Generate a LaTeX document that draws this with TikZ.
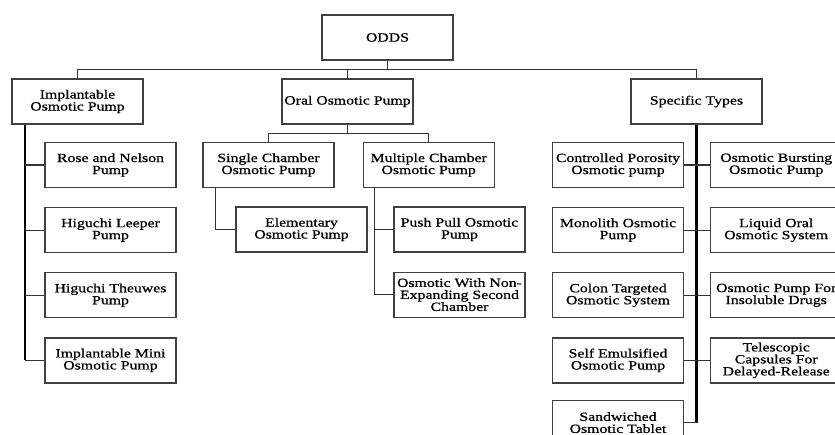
\documentclass[tikz,border=0pt]{standalone}
\usepackage{fontspec}
\setmainfont[FakeStretch=1.26,FakeBold=0.8]{Liberation Serif}
\usetikzlibrary{positioning}

\begin{document}
\begin{tikzpicture}[x=0.75pt, y=-0.75pt,
			node distance = 14.2pt,
			box/.style = {
				draw=black!75, line width=0.9pt,
				minimum width=98.25pt, minimum height=33.75pt,
				inner sep=0.5pt, align=center,
				font=\fontsize{9.4}{9}\selectfont
			},
			link/.style = {draw=black!80, line width=0.8pt},
			trunk/.style = {draw=black, line width=1.6pt}]
			\useasboundingbox (0,0) rectangle (835,435);
			\node (odds) [box] at (387.5,37.5) {ODDS};
			\node (impl) [box] at (77.5,101.5) {Implantable\\Osmotic Pump};
			\node (oral) [box] at (347.5,101.5) {Oral Osmotic Pump};
			\node (spec) [box] at (696.5,101.5) {Specific Types};
			\node (rose) [box] at (110.5,165) {Rose and Nelson\\Pump};
			\node (leeper) [box, below = of rose] {Higuchi Leeper\\Pump};
			\node (theuwes) [box, below = of leeper] {Higuchi Theuwes\\Pump};
			\node (mini) [box, below = of theuwes] {Implantable Mini\\Osmotic Pump};
			\node (single) [box] at (268.5,165) {Single Chamber\\Osmotic Pump};
			\node (multiple) [box, right = 21pt of single] {Multiple Chamber\\Osmotic Pump};
			\node (elem) [box] at (301.5,229.5) {Elementary\\Osmotic Pump};
			\node (pushpull) [box] at (459.5,229.5) {Push Pull Osmotic\\Pump};
			\node (nonexp) [box, below = of pushpull] {Osmotic With Non-\\Expanding Second\\Chamber};
			\node (porosity) [box] at (618,165) {Controlled Porosity\\Osmotic pump};
			\node (monolith) [box, below = of porosity] {Monolith Osmotic\\Pump};
			\node (colon) [box, below = of monolith] {Colon Targeted\\Osmotic System};
			\node (selfemul) [box, below = of colon] {Self Emulsified\\Osmotic Pump};
			\node (sandwich) [box, below = 12pt of selfemul] {Sandwiched\\Osmotic Tablet};
			\node (bursting) [box, right = 19.5pt of porosity] {Osmotic Bursting\\Osmotic Pump};
			\node (liquid) [box, below = of bursting] {Liquid Oral\\Osmotic System};
			\node (insoluble) [box, below = of liquid] {Osmotic Pump For\\Insoluble Drugs};
			\node (telescopic) [box, below = of insoluble] {Telescopic\\Capsules For\\Delayed-Release};
			\draw [link] (odds.south) -- ++(0,9) coordinate (tbus);
			\draw [link] (tbus) -| (impl.north);
			\draw [link] (tbus) -| (oral.north);
			\draw [link] (tbus) -| (spec.north);
			\coordinate (istem) at ([xshift=10.5pt]impl.south west);
			\draw [trunk] (istem) -- (istem |- mini.west);
			\foreach \n in {rose,leeper,theuwes,mini}
				\draw [link] (istem |- \n.west) -- (\n.west);
			\draw [link] (oral.south) -- ++(0,9) coordinate (obus);
			\draw [link] (obus) -| (single.north);
			\draw [link] (obus) -| (multiple.north);
			\draw [link] ([xshift=9.75pt]single.south west) |- (elem.west);
			\draw [link] ([xshift=9pt]multiple.south west) |- (pushpull.west);
			\draw [link] ([xshift=9pt]multiple.south west) |- (nonexp.west);
			\draw [trunk] (spec.south) -- (spec.south |- sandwich.east);
			\draw [link] (spec.south |- sandwich.east) -- (sandwich.east);
			\draw [link] (porosity.east) -- (bursting.west);
			\draw [link] (monolith.east) -- (liquid.west);
			\draw [link] (colon.east) -- (insoluble.west);
			\draw [link] (selfemul.east) -- (telescopic.west);
		\end{tikzpicture}
\end{document}
